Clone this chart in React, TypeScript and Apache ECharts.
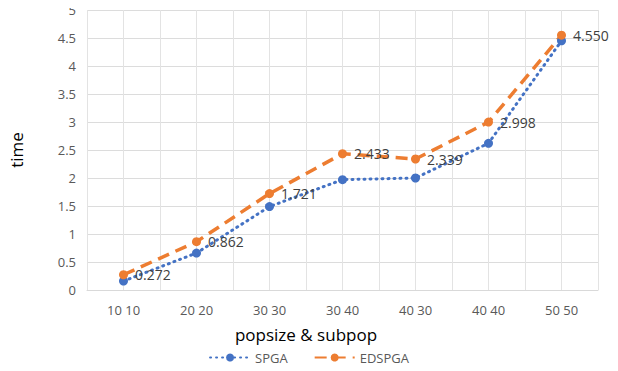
import React, { useEffect, useRef } from "react";
import * as echarts from "echarts";

const categories = ["10 10", "20 20", "30 30", "30 40", "40 30", "40 40", "50 50"];
const spga = [0.16, 0.66, 1.49, 1.97, 2.0, 2.62, 4.45];
const edspga = [0.272, 0.862, 1.721, 2.433, 2.339, 2.998, 4.55];
const halfSlots = Array.from({ length: categories.length * 2 }, (_, i) => String(i));

export default function App() {
  const ref = useRef<HTMLDivElement>(null);
  useEffect(() => {
    if (!ref.current) return;
    const chart = echarts.init(ref.current, null, { renderer: "svg" });
    const font = "'Open Sans', 'Liberation Sans', sans-serif";
    chart.setOption({
      animation: false,
      textStyle: { fontFamily: font },
      grid: { left: 80, right: 20, top: 10, bottom: 81, containLabel: false },
      legend: {
        bottom: 2,
        left: "center",
        itemWidth: 40,
        itemHeight: 10,
        itemGap: 26,
        textStyle: { color: "#595959", fontSize: 13, fontFamily: font },
        data: ["SPGA", "EDSPGA"],
      },
      xAxis: [
        {
          type: "category",
          data: categories,
          boundaryGap: true,
          axisLine: { lineStyle: { color: "#d9d9d9" } },
          axisTick: { show: false },
          axisLabel: { color: "#595959", fontSize: 13, margin: 13 },
          splitLine: { show: false },
        },
        {
          type: "category",
          data: halfSlots,
          position: "bottom",
          boundaryGap: true,
          axisLine: { show: false },
          axisTick: { show: false },
          axisLabel: { show: false },
          splitLine: { show: true, interval: 0, lineStyle: { color: "#e3e3e3" } },
        },
      ],
      yAxis: {
        type: "value",
        min: 0,
        max: 5,
        interval: 0.5,
        name: "time",
        nameLocation: "middle",
        nameGap: 62,
        nameTextStyle: { color: "#000", fontSize: 17 },
        axisLine: { show: false },
        axisTick: { show: false },
        axisLabel: { color: "#595959", fontSize: 13, margin: 11 },
        splitLine: { lineStyle: { color: "#dcdcdc" } },
      },
      graphic: [
        {
          type: "text",
          x: 306,
          y: 334,
          style: {
            text: "popsize & subpop",
            fill: "#000",
            fontSize: 17,
            fontFamily: font,
            align: "center",
            verticalAlign: "middle",
          },
        },
      ],
      series: [
        {
          name: "SPGA",
          type: "line",
          data: spga,
          xAxisIndex: 0,
          symbol: "circle",
          symbolSize: 9,
          itemStyle: { color: "#4472C4" },
          lineStyle: { color: "#4472C4", width: 3, type: [1, 5], cap: "round" },
        },
        {
          name: "EDSPGA",
          type: "line",
          data: edspga,
          xAxisIndex: 0,
          symbol: "circle",
          symbolSize: 9,
          itemStyle: { color: "#ED7D31" },
          lineStyle: { color: "#ED7D31", width: 3.5, type: [12, 7] },
          label: {
            show: true,
            position: "right",
            distance: 7,
            color: "#404040",
            fontSize: 14,
            formatter: (p: any) => Number(p.value).toFixed(3),
          },
        },
      ],
    });
    return () => chart.dispose();
  }, []);
  return <div ref={ref} style={{ width: 618, height: 371, margin: -8 }} />;
}
